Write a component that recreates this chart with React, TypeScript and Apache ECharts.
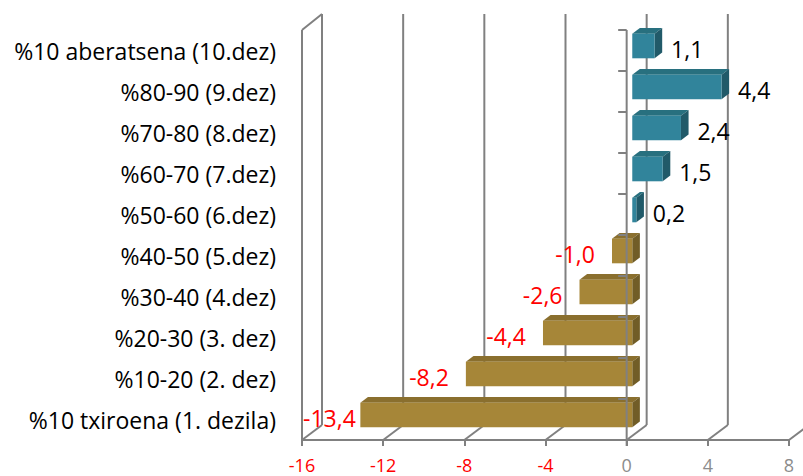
import React, { useEffect, useRef } from 'react';
import * as echarts from 'echarts';

const categories = [
  '%10 txiroena (1. dezila)',
  '%10-20 (2. dez)',
  '%20-30 (3. dez)',
  '%30-40 (4.dez)',
  '%40-50 (5.dez)',
  '%50-60 (6.dez)',
  '%60-70 (7.dez)',
  '%70-80 (8.dez)',
  '%80-90 (9.dez)',
  '%10 aberatsena (10.dez)',
];
const values = [-13.4, -8.2, -4.4, -2.6, -1.0, 0.2, 1.5, 2.4, 4.4, 1.1];
const xTicks = [-16, -12, -8, -4, 0, 4, 8];

const FONT = '"Open Sans", "Noto Sans", sans-serif';
const GRAY = '#808080';
const DX = 20;
const DY = -15;

const fmt = (v: number) => v.toFixed(1).replace('.', ',');

function textWidth(text: string, font: string): number {
  try {
    const t = new (echarts.graphic as any).Text({ style: { text, font } });
    return t.getBoundingRect().width;
  } catch (e) {
    return text.length * 11;
  }
}

export default function App() {
  const ref = useRef<HTMLDivElement>(null);
  useEffect(() => {
    if (!ref.current) return;
    const chart = echarts.init(ref.current, undefined, { renderer: 'svg' });

    const frameRender = (params: any, api: any) => {
      const cs = params.coordSys;
      const top = cs.y;
      const bottom = cs.y + cs.height;
      const left = cs.x;
      const children: any[] = [];
      const ls = { stroke: GRAY, lineWidth: 2 };
      xTicks.forEach((t) => {
        const x = api.coord([t, 0])[0];
        children.push({ type: 'line', shape: { x1: x, y1: bottom, x2: x + DX, y2: bottom + DY }, style: ls });
        children.push({ type: 'line', shape: { x1: x + DX, y1: bottom + DY, x2: x + DX, y2: top + DY - 1 }, style: ls });
      });
      children.push({ type: 'line', shape: { x1: left, y1: top, x2: left, y2: bottom }, style: ls });
      children.push({ type: 'line', shape: { x1: left, y1: top, x2: left + DX, y2: top + DY - 1 }, style: ls });
      return { type: 'group', children };
    };

    const axisRender = (params: any, api: any) => {
      const cs = params.coordSys;
      const top = cs.y;
      const bottom = cs.y + cs.height;
      const x0 = api.coord([0, 0])[0];
      const children: any[] = [];
      const ls = { stroke: GRAY, lineWidth: 2 };
      children.push({ type: 'line', shape: { x1: x0, y1: top, x2: x0, y2: bottom + 6 }, style: ls });
      const n = categories.length;
      for (let k = 0; k <= n; k++) {
        const y = top + (k * cs.height) / n;
        children.push({ type: 'line', shape: { x1: x0 - 8.5, y1: y, x2: x0, y2: y }, style: ls });
      }
      return { type: 'group', children };
    };

    const labelFont = `23px ${FONT}`;
    const barRender = (params: any, api: any) => {
      const cs = params.coordSys;
      const v = api.value(0);
      const idx = api.value(1);
      const c0 = api.coord([0, idx]);
      const c1 = api.coord([v, idx]);
      const band = api.size([0, 1])[1];
      const h = band * 0.6;
      const ox = DX * 0.28;
      const oy = DY * 0.3;
      const dx = DX * 0.38;
      const dy = DY * 0.38;
      const xl = Math.min(c0[0], c1[0]) + ox;
      const xr = Math.max(c0[0], c1[0]) + ox;
      const yt = c0[1] - h / 2 + oy;
      const yb = yt + h;
      const pos = v >= 0;
      const front = pos ? '#31849B' : '#A68638';
      const topC = pos ? '#28707F' : '#8A6F2E';
      const side = pos ? '#215A69' : '#715D27';
      const children: any[] = [
        {
          type: 'polygon',
          shape: { points: [[xl, yt], [xr, yt], [xr + dx, yt + dy], [xl + dx, yt + dy]] },
          style: { fill: topC },
        },
        {
          type: 'polygon',
          shape: { points: [[xr, yt], [xr + dx, yt + dy], [xr + dx, yb + dy], [xr, yb]] },
          style: { fill: side },
        },
        {
          type: 'rect',
          shape: { x: xl, y: yt, width: xr - xl, height: h },
          style: { fill: front },
        },
      ];
      const text = fmt(v);
      const ly = c0[1] - 2;
      if (pos) {
        children.push({
          type: 'text',
          z2: 100,
          style: { text, x: xr + 16.5, y: ly, align: 'left', verticalAlign: 'middle', fill: '#000000', font: labelFont },
        });
      } else {
        const w = textWidth(text, labelFont);
        let rx = xl - 17;
        if (rx - w < cs.x + 1) rx = cs.x + 1 + w;
        children.push({
          type: 'text',
          z2: 100,
          style: { text, x: rx, y: ly, align: 'right', verticalAlign: 'middle', fill: '#FF0000', font: labelFont },
        });
      }
      return { type: 'group', children };
    };

    const barData = values.map((v, i) => [v, i]);

    chart.setOption({
      animation: false,
      backgroundColor: '#ffffff',
      grid: { left: 302, right: 14, top: 30, bottom: 36, containLabel: false },
      xAxis: {
        type: 'value',
        min: -16,
        max: 8,
        interval: 4,
        axisLine: { show: true, lineStyle: { color: GRAY, width: 2 } },
        axisTick: { show: true, length: 6, lineStyle: { color: GRAY, width: 2 } },
        splitLine: { show: false },
        axisLabel: {
          margin: 16,
          fontFamily: FONT,
          fontSize: 18,
          color: (val: any) => (Number(val) < 0 ? '#FF0000' : '#8C8C8C'),
          formatter: (val: number) => String(val),
        },
      },
      yAxis: {
        type: 'category',
        data: categories,
        axisLine: { show: false, onZero: false },
        axisTick: { show: false },
        splitLine: { show: false },
        axisLabel: {
          margin: 26,
          fontFamily: FONT,
          fontSize: 23,
          color: '#000000',
          padding: [4, 0, 0, 0],
        },
      },
      series: [
        {
          type: 'custom',
          name: 'frame',
          z: 1,
          silent: true,
          renderItem: frameRender,
          data: [[0, 0]],
          encode: { x: 0, y: 1 },
        },
        {
          type: 'custom',
          name: 'bars',
          z: 2,
          renderItem: barRender,
          data: barData,
          encode: { x: 0, y: 1 },
        },
        {
          type: 'custom',
          name: 'axis',
          z: 3,
          silent: true,
          renderItem: axisRender,
          data: [[0, 0]],
          encode: { x: 0, y: 1 },
        },
      ],
    });

    return () => chart.dispose();
  }, []);

  return <div ref={ref} style={{ width: 803, height: 476, position: 'absolute', left: 0, top: 0 }} />;
}
